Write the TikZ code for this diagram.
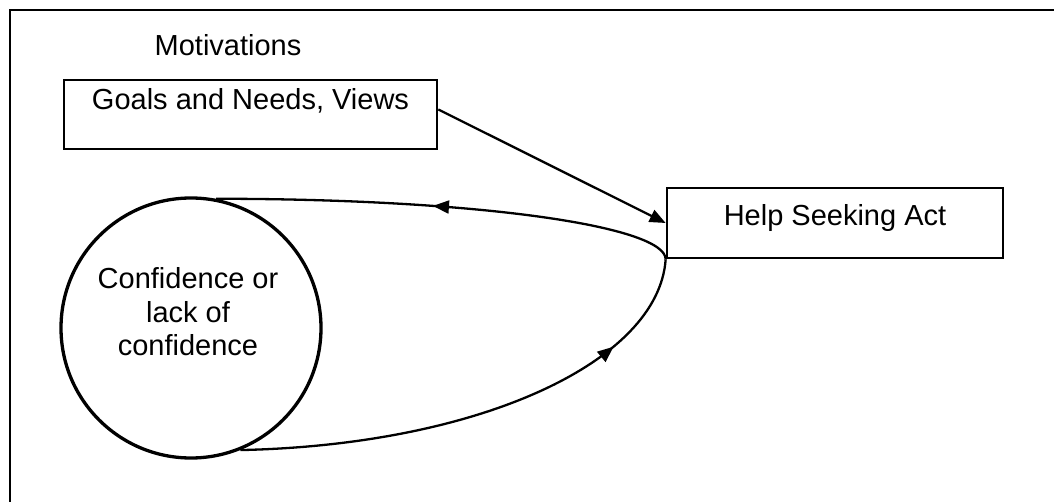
\documentclass[tikz,border=0pt]{standalone}
\usepackage{fontspec}
\setmainfont{Liberation Sans}
\usetikzlibrary{arrows.meta,decorations.markings,calc}
\begin{document}
\begin{tikzpicture}[x=1pt,y=-1pt,
  every node/.style={font=\fontsize{29}{33.5}\selectfont},
  frame/.style={line width=2.8pt},
  box/.style={draw, line width=2.7pt, inner sep=0pt, align=center},
  conn/.style={line width=2.3pt},
  tip/.style={-{Triangle[length=16pt,width=13pt]}},
  markarrow/.style={postaction={decorate},
    decoration={markings, mark=at position #1 with {\arrow{Triangle[length=16pt,width=13pt]}}}}
]
% page area and outer frame (only its top and left edges fall on the page)
\clip (0,0) rectangle (1054,502);
\draw[frame] (10,10) rectangle (1090,540);

% title
\node (motiv) at (228,45) {Motivations};

% boxes
\node[box, minimum width=373pt, text height=30pt, text depth=39pt] (goals) at (250.5,114.5) {Goals and Needs, Views};
\node[box, minimum width=336pt, text height=38pt, text depth=32pt] (help) at (835,223) {Help Seeking Act};

% confidence circle
\node[draw, circle, line width=3.3pt, minimum size=260pt, inner sep=0pt] (conf) at (191,328) {};
\node[align=center] (conftext) at (188,312) {Confidence or\\lack of\\confidence};

% connectors
\draw[conn, tip] ($(goals.east)+(0,-5)$) -- (help.west);
\draw[conn, markarrow=0.53] (help.south west) .. controls +(0,-33) and +(263,0) .. (conf.79);
\draw[conn, markarrow=0.79] (conf.-68) .. controls +(240,-5) and +(-7,102) .. (help.south west);
\end{tikzpicture}
\end{document}
